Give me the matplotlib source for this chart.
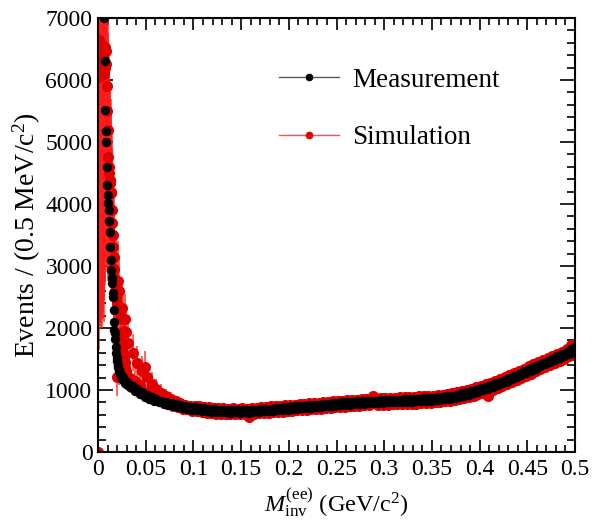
import numpy as np
import matplotlib
matplotlib.use('Agg')
import matplotlib.pyplot as plt
from matplotlib.lines import Line2D
from matplotlib.ticker import MultipleLocator

plt.rcParams['font.family'] = ['Liberation Serif', 'DejaVu Serif']
plt.rcParams['mathtext.fontset'] = 'custom'
plt.rcParams['mathtext.rm'] = 'Liberation Serif'
plt.rcParams['mathtext.it'] = 'Liberation Serif:italic'

# bin centres (0.5 MeV bins near threshold, every 5th bin above 30 MeV)
meas_mass_fine = 0.00675 + 0.0005 * np.arange(47)
sim_mass_fine = 0.00025 + 0.0005 * np.arange(60)
mass_coarse = 0.03125 + 0.0025 * np.arange(188)

# measured events per bin
meas_fine = [7000, 6300, 5520, 5170, 5000, 4600, 4310, 4150, 4010, 3900,
             3720, 3550, 3310, 3100, 2930, 2800, 2720, 2560, 2500, 2290,
             2100, 1970, 1920, 1830, 1700, 1600, 1510, 1460, 1400, 1375,
             1330, 1300, 1270, 1250, 1225, 1240, 1200, 1185, 1210, 1170,
             1150, 1165, 1130, 1140, 1110, 1120, 1095]
meas_coarse = [1120, 1050, 1065, 985, 1010, 940, 965, 890,
               915, 860, 885, 830, 860, 805, 830, 775,
               810, 765, 795, 740, 770, 725, 755, 705,
               745, 700, 730, 680, 720, 675, 710, 660,
               705, 655, 690, 650, 690, 645, 685, 640,
               680, 645, 675, 635, 680, 640, 670, 635,
               680, 640, 675, 635, 685, 645, 680, 645,
               690, 655, 695, 660, 700, 665, 710, 670,
               715, 680, 720, 685, 725, 690, 735, 695,
               740, 705, 745, 710, 750, 715, 760, 720,
               765, 725, 770, 735, 775, 740, 790, 745,
               795, 750, 800, 760, 805, 765, 810, 770,
               815, 775, 820, 780, 825, 785, 830, 790,
               830, 790, 835, 795, 840, 800, 840, 800,
               845, 800, 845, 805, 850, 805, 850, 810,
               855, 815, 860, 820, 865, 825, 870, 830,
               875, 835, 885, 840, 890, 850, 900, 860,
               910, 875, 925, 890, 945, 905, 965, 925,
               985, 950, 1005, 970, 1030, 995, 1055, 1020,
               1080, 1045, 1110, 1075, 1135, 1105, 1165, 1135,
               1195, 1170, 1230, 1205, 1265, 1240, 1300, 1275,
               1335, 1310, 1370, 1345, 1405, 1380, 1440, 1415,
               1475, 1450, 1505, 1480, 1540, 1515, 1575, 1545,
               1610, 1580, 1660, 1690]

# simulated events per bin and their uncertainties
sim_fine = [0, 6650, 6050, 6600, 6540, 6300, 6480, 6200, 6460, 6350,
            6460, 6100, 6450, 6300, 6540, 6200, 6460, 6250, 5900, 5500,
            5200, 4763, 4600, 4500, 4390, 4338, 4200, 4170, 3900, 3700,
            3500, 3300, 3150, 2950, 2800, 2700, 2600, 2500, 2747, 1215,
            2400, 2750, 1900, 1500, 2600, 1800, 2320, 1500, 2200, 1650,
            2320, 1400, 2150, 1550, 1950, 1350, 2150, 1450, 1940, 1300]
sim_err_fine = [0, 4500, 4400, 4500, 4500, 4300, 4400, 4200, 4300, 4200,
                4200, 4000, 4000, 3800, 3800, 3500, 3400, 3200, 2900, 2600,
                2300, 2000, 1800, 1700, 1600, 1500, 1500, 1400, 1300, 1200,
                1100, 1000, 950, 900, 850, 800, 750, 700, 700, 320,
                600, 650, 500, 420, 550, 450, 500, 400, 480, 380,
                450, 350, 420, 360, 400, 320, 400, 330, 380, 300]
sim_coarse = [1753, 1200, 1600, 1150, 1435, 1080, 1300, 1376,
              1215, 980, 1100, 900, 1020, 860, 950, 820,
              900, 770, 860, 745, 820, 720, 790, 700,
              765, 690, 745, 665, 740, 655, 735, 640,
              730, 630, 720, 625, 715, 620, 710, 615,
              705, 610, 700, 615, 705, 610, 700, 612,
              705, 615, 700, 570, 710, 620, 715, 625,
              720, 630, 725, 635, 735, 640, 740, 645,
              745, 650, 750, 655, 760, 665, 765, 670,
              770, 675, 780, 680, 785, 690, 790, 695,
              795, 700, 800, 705, 810, 715, 815, 720,
              825, 725, 830, 730, 835, 735, 840, 740,
              845, 745, 850, 750, 855, 755, 860, 900,
              865, 760, 870, 765, 875, 765, 870, 770,
              875, 770, 880, 775, 880, 775, 885, 780,
              890, 780, 895, 785, 900, 790, 905, 795,
              910, 800, 915, 805, 925, 815, 935, 820,
              945, 835, 960, 850, 980, 870, 1000, 885,
              1020, 910, 1045, 935, 1070, 950, 1095, 900,
              1120, 1005, 1145, 1035, 1175, 1065, 1205, 1095,
              1240, 1125, 1275, 1165, 1310, 1195, 1345, 1230,
              1380, 1265, 1415, 1300, 1450, 1335, 1485, 1370,
              1520, 1400, 1550, 1435, 1585, 1470, 1620, 1500,
              1655, 1540, 1720, 1560]
sim_err_head = [340, 250, 300, 240, 270, 220, 240, 250,
                210, 170, 190, 150, 160, 130, 140, 110,
                120, 95, 100, 85, 85, 75, 70, 65]
sim_err_tail = 40

sim_err_coarse = sim_err_head + [sim_err_tail] * (len(sim_coarse) - len(sim_err_head))

fig = plt.figure(figsize=(5.97, 5.23), dpi=100)
ax = fig.add_axes([0.1642, 0.1358, 0.799, 0.8298])

red = '#e00000'
ebar = (1.0, 0.1, 0.1, 0.8)
for m, v, e in [(sim_mass_fine, sim_fine, sim_err_fine),
                (mass_coarse, sim_coarse, sim_err_coarse)]:
    ax.errorbar(m, v, yerr=e, fmt='o', ms=8, mfc=red, mec=red, mew=0,
                ecolor=ebar, elinewidth=1.2, capsize=0, zorder=2)

for m, v in [(meas_mass_fine, meas_fine), (mass_coarse, meas_coarse)]:
    ax.plot(m, v, 'o', ms=6.8, color='black', mew=0, zorder=3)

ax.set_xlim(0, 0.5)
ax.set_ylim(0, 7000)
ax.xaxis.set_major_locator(MultipleLocator(0.05))
ax.xaxis.set_minor_locator(MultipleLocator(0.01))
ax.yaxis.set_major_locator(MultipleLocator(1000))
ax.yaxis.set_minor_locator(MultipleLocator(200))
ax.xaxis.set_major_formatter(plt.FuncFormatter(lambda v, p: ('%.2f' % v).rstrip('0').rstrip('.')))

ax.tick_params(which='both', direction='in', top=True, right=True,
               width=1.2, labelsize=17, colors='black')
ax.tick_params(axis='x', which='major', length=8.6, pad=5)
ax.tick_params(axis='x', which='minor', length=4.7)
ax.tick_params(axis='y', which='major', length=10.8, pad=4)
ax.tick_params(axis='y', which='minor', length=5.8)
for s in ax.spines.values():
    s.set_linewidth(1.5)

ax.set_xlabel(r'$M_{\mathrm{inv}}^{\mathrm{(ee)}}$ (GeV/c$^{2}$)', fontsize=17.5)
ax.set_ylabel(r'Events / (0.5 MeV/c$^{2}$)', fontsize=20)
ax.xaxis.set_label_coords(0.5, -0.078)
ax.yaxis.set_label_coords(-0.115, 0.5)

handles = [Line2D([], [], color='0.35', lw=1, marker='o', ms=4.5,
                  mfc='black', mec='black'),
           Line2D([], [], color='#ff5050', lw=1, marker='o', ms=4.5,
                  mfc=red, mec=red)]
ax.legend(handles, ['Measurement', 'Simulation'], loc='center left',
          bbox_to_anchor=(0.38, 0.79), frameon=False, fontsize=19.5,
          handlelength=2.2, handletextpad=0.5, labelspacing=1.2,
          borderpad=0, borderaxespad=0)

fig.savefig('out.png', dpi=100)
